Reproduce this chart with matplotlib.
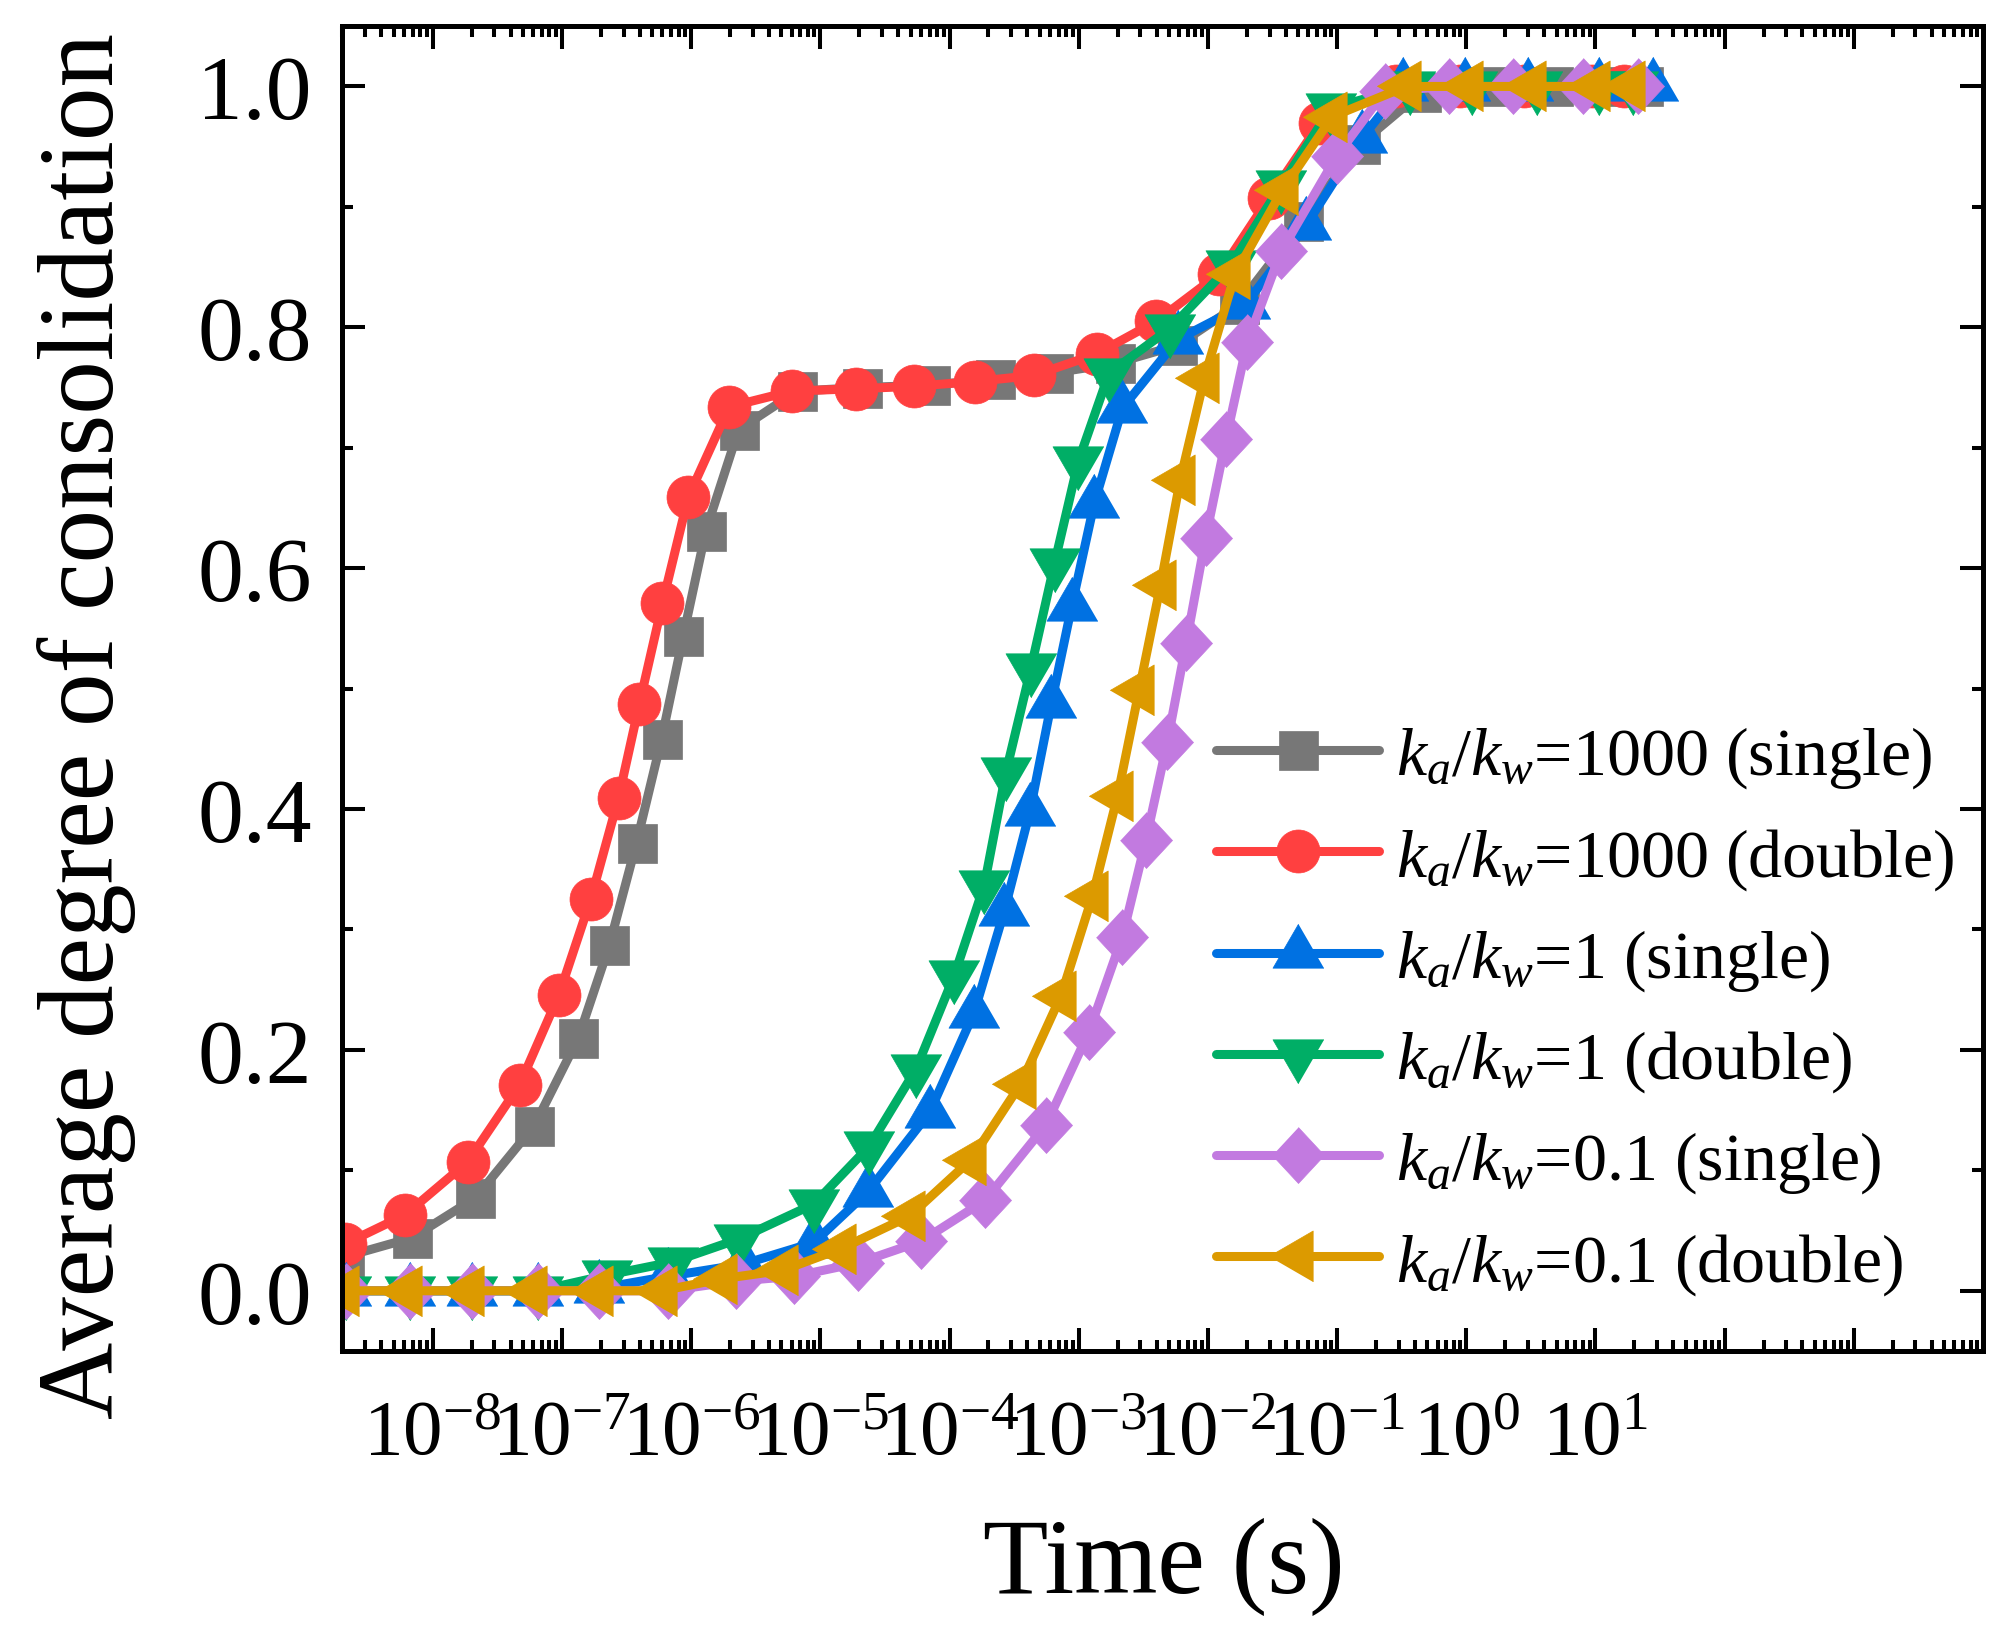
import numpy as np
import matplotlib
matplotlib.use('Agg')
import matplotlib.pyplot as plt
from matplotlib.ticker import LogLocator, FuncFormatter, MultipleLocator, NullFormatter

plt.rcParams['font.family'] = ['Liberation Serif', 'DejaVu Serif']
plt.rcParams['mathtext.fontset'] = 'custom'
plt.rcParams['mathtext.rm'] = 'Liberation Serif'
plt.rcParams['mathtext.it'] = 'Liberation Serif:italic'
plt.rcParams['mathtext.bf'] = 'Liberation Serif:bold'

# ---- data (time in s, average degree of consolidation) ----
t_1000_single = [2.05e-9, 6.9e-9, 2.13e-8, 6.1e-8, 1.34e-7, 2.33e-7, 3.78e-7, 5.9e-7, 8.7e-7,
                 1.30e-6, 2.33e-6, 6.6e-6, 2.09e-5, 7.1e-5, 2.24e-4, 6.3e-4, 1.9e-3, 5.8e-3,
                 1.73e-2, 5.4e-2, 0.150, 0.45, 1.45, 4.7, 10.5, 23.4]
u_1000_single = [0.028, 0.044, 0.077, 0.137, 0.210, 0.287, 0.372, 0.458, 0.544,
                 0.631, 0.715, 0.747, 0.750, 0.752, 0.757, 0.762, 0.770, 0.785,
                 0.819, 0.888, 0.952, 0.995, 1.0, 1.0, 1.0, 1.0]

t_1000_double = [2.1e-9, 6.1e-9, 1.86e-8, 4.7e-8, 9.5e-8, 1.67e-7, 2.74e-7, 3.97e-7, 6.0e-7,
                 9.5e-7, 1.97e-6, 6.0e-6, 1.88e-5, 5.3e-5, 1.57e-4, 4.5e-4, 1.38e-3, 3.98e-3,
                 1.21e-2, 2.96e-2, 7.4e-2, 0.284, 0.89, 2.8, 9.4, 16.7]
u_1000_double = [0.039, 0.063, 0.107, 0.171, 0.246, 0.325, 0.409, 0.487, 0.571,
                 0.659, 0.734, 0.747, 0.749, 0.751, 0.755, 0.760, 0.778, 0.805,
                 0.844, 0.907, 0.970, 1.0, 1.0, 1.0, 1.0, 1.0]

t_1_single = [2.13e-9, 6.7e-9, 2.03e-8, 6.5e-8, 1.95e-7, 6.6e-7, 2.5e-6, 8.9e-6, 2.32e-5,
              7.0e-5, 1.55e-4, 2.65e-4, 4.19e-4, 6.15e-4, 8.85e-4, 1.32e-3, 2.18e-3, 5.85e-3,
              1.95e-2, 5.77e-2, 0.155, 0.323, 0.98, 2.99, 10.7, 27.8]
u_1_single = [0.0, 0.0, 0.0, 0.0, 0.002, 0.012, 0.022, 0.040, 0.082,
              0.148, 0.231, 0.315, 0.398, 0.488, 0.569, 0.654, 0.733, 0.790,
              0.819, 0.885, 0.957, 1.0, 1.0, 1.0, 1.0, 1.0]

t_1_double = [2.13e-9, 6.7e-9, 2.03e-8, 6.5e-8, 2.24e-7, 7.2e-7, 2.34e-6, 8.9e-6, 2.39e-5,
              5.5e-5, 1.09e-4, 1.86e-4, 2.74e-4, 4.27e-4, 6.5e-4, 9.95e-4, 1.72e-3, 5.1e-3,
              1.51e-2, 3.69e-2, 9.0e-2, 0.366, 1.11, 3.5, 10.7, 19.6]
u_1_double = [0.0, 0.0, 0.0, 0.0, 0.013, 0.024, 0.043, 0.072, 0.120,
              0.184, 0.262, 0.337, 0.431, 0.517, 0.604, 0.689, 0.762, 0.799,
              0.852, 0.918, 0.982, 1.0, 1.0, 1.0, 1.0, 1.0]

t_01_single = [2.13e-9, 6.7e-9, 2.03e-8, 6.5e-8, 1.95e-7, 6.6e-7, 2.22e-6, 6.3e-6, 1.94e-5,
               6.0e-5, 1.88e-4, 5.6e-4, 1.2e-3, 2.18e-3, 3.31e-3, 4.86e-3, 6.8e-3, 9.6e-3,
               1.38e-2, 2.02e-2, 3.69e-2, 9.9e-2, 0.234, 0.738, 2.28, 8.0, 21.5]
u_01_single = [0.0, 0.0, 0.0, 0.0, 0.0, 0.0, 0.008, 0.012, 0.023,
               0.041, 0.075, 0.138, 0.215, 0.294, 0.374, 0.456, 0.538, 0.625,
               0.707, 0.788, 0.863, 0.942, 0.996, 1.0, 1.0, 1.0, 1.0]

t_01_double = [2.04e-9, 6.3e-9, 1.9e-8, 5.9e-8, 1.9e-7, 5.9e-7, 1.74e-6, 5.1e-6, 1.45e-5,
               4.9e-5, 1.47e-4, 3.57e-4, 7.3e-4, 1.28e-3, 2.0e-3, 2.94e-3, 4.3e-3, 6.1e-3,
               9.4e-3, 1.62e-2, 3.78e-2, 9.2e-2, 0.343, 1.04, 3.18, 10.0, 18.4]
u_01_double = [0.0, 0.0, 0.0, 0.0, 0.0, 0.0, 0.010, 0.017, 0.035,
               0.062, 0.109, 0.172, 0.245, 0.328, 0.411, 0.499, 0.586, 0.673,
               0.758, 0.844, 0.914, 0.975, 1.0, 1.0, 1.0, 1.0, 1.0]

labels = [r'$k_a/k_w$=1000 (single)', r'$k_a/k_w$=1000 (double)',
          r'$k_a/k_w$=1 (single)', r'$k_a/k_w$=1 (double)',
          r'$k_a/k_w$=0.1 (single)', r'$k_a/k_w$=0.1 (double)']
colors = ['#777777', '#FF4040', '#0071E2', '#00AE66', '#C27AE0', '#DC9A00']

DPI = 100


def px2pt(px):
    return px * 72.0 / DPI


def tri_marker(w, h, direction):
    # triangle with its centroid on the data point
    if direction == 'up':
        v = [(0, 2 * h / 3), (-w / 2, -h / 3), (w / 2, -h / 3)]
    elif direction == 'down':
        v = [(0, -2 * h / 3), (-w / 2, h / 3), (w / 2, h / 3)]
    else:  # left
        v = [(-2 * h / 3, 0), (h / 3, w / 2), (h / 3, -w / 2)]
    size = 2 * max(max(abs(a), abs(b)) for a, b in v)
    return v, px2pt(size)


up_v, up_ms = tri_marker(51, 44, 'up')
dn_v, dn_ms = tri_marker(51, 44, 'down')
lf_v, lf_ms = tri_marker(51, 44, 'left')
dia_v = [(0, 28), (26, 0), (0, -28), (-26, 0)]

markers = ['s', 'o', up_v, dn_v, dia_v, lf_v]
msizes = [px2pt(39), px2pt(43), up_ms, dn_ms, px2pt(56), lf_ms]

series = [(t_1000_single, u_1000_single), (t_1000_double, u_1000_double),
          (t_1_single, u_1_single), (t_1_double, u_1_double),
          (t_01_single, u_01_single), (t_01_double, u_01_double)]

fig = plt.figure(figsize=(20.11, 16.4), dpi=DPI)
ax = fig.add_axes([0.1703, 0.1756, 0.8158, 0.8078])

for (t, u), lab, c, m, ms in zip(series, labels, colors, markers, msizes):
    ax.plot(t, u, color=c, lw=6.5, marker=m, ms=ms, mfc=c, mec=c, mew=0.5,
            label=lab, solid_capstyle='round')

ax.set_xscale('log')
ax.set_xlim(2e-9, 1e4)
ax.set_ylim(-0.05, 1.05)

ax.xaxis.set_major_locator(LogLocator(base=10, numticks=30))
ax.xaxis.set_minor_locator(LogLocator(base=10, subs=np.arange(2, 10), numticks=30))
ax.xaxis.set_minor_formatter(NullFormatter())


def xfmt(v, pos):
    e = int(round(np.log10(v)))
    if -8 <= e <= 1:
        return r'$10^{%d}$' % e
    return ''


ax.xaxis.set_major_formatter(FuncFormatter(xfmt))
ax.yaxis.set_major_locator(MultipleLocator(0.2))
ax.yaxis.set_minor_locator(MultipleLocator(0.1))
ax.yaxis.set_major_formatter(FuncFormatter(lambda v, p: '%.1f' % v))

for s in ax.spines.values():
    s.set_linewidth(3.6)
ax.tick_params(which='both', direction='in', top=True, right=True, width=2.9)
ax.tick_params(which='major', length=16.5)
ax.tick_params(which='minor', length=8)
ax.tick_params(axis='x', which='major', labelsize=57, pad=34)
ax.tick_params(axis='y', which='major', labelsize=66, pad=22)

fig.text(0.0428, 0.5573, 'Average degree of consolidation', rotation=90,
         ha='center', va='center', fontsize=77)
fig.text(0.5788, 0.0445, 'Time (s)', ha='center', va='center', fontsize=77)

ax.legend(loc='center left', bbox_to_anchor=(0.5325, 0.257), frameon=False,
          fontsize=49, handlelength=2.4, handletextpad=0.25, labelspacing=0.52,
          borderpad=0, borderaxespad=0, numpoints=1)

fig.savefig('out.png', dpi=DPI)
